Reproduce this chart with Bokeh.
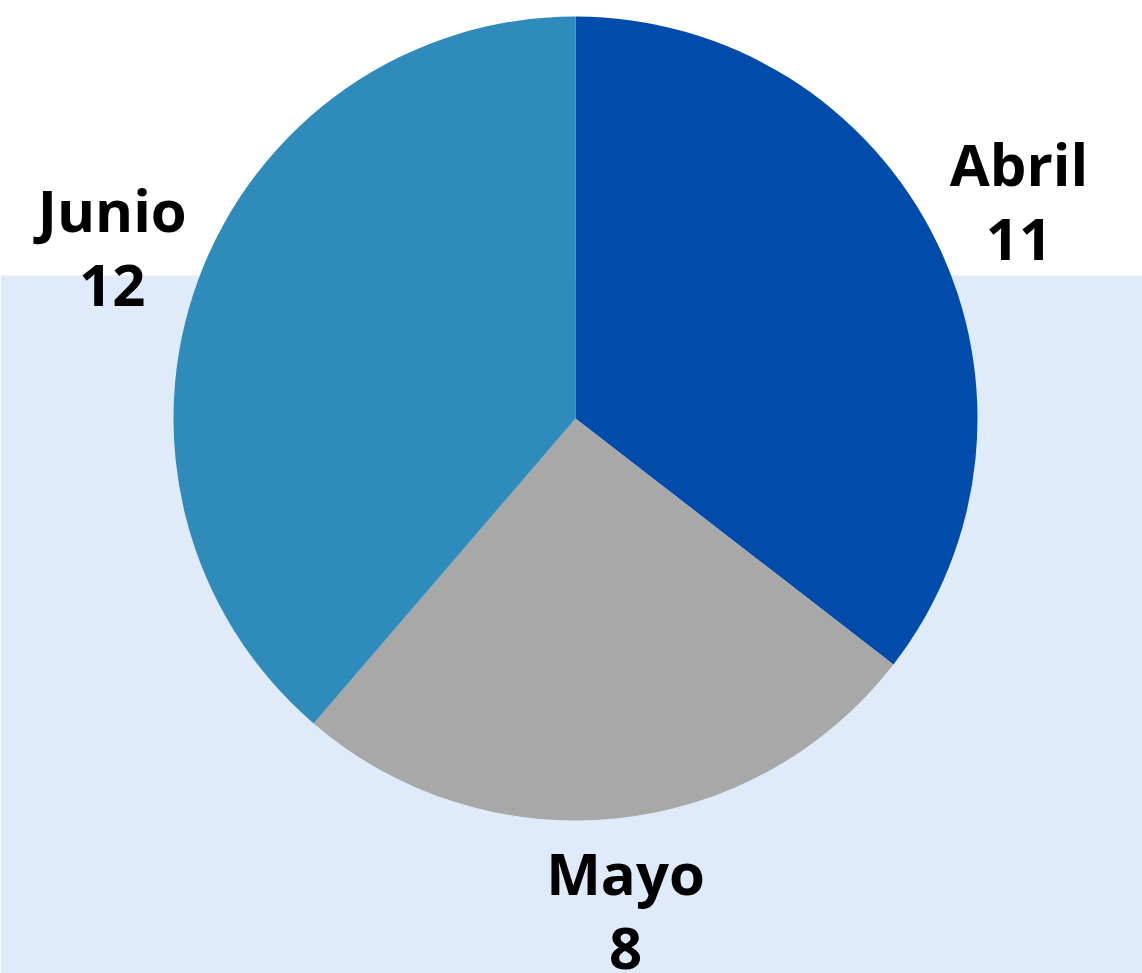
import numpy as np
from bokeh.plotting import figure
from bokeh.models import Range1d, BoxAnnotation, ColumnDataSource
from bokeh.core.properties import value
from bokeh.embed import file_html
from bokeh.resources import INLINE

# data
months = ["Abril", "Mayo", "Junio"]
counts = [11, 8, 12]
colors = ["#014BAB", "#A8A8A8", "#2E8BBA"]

W, H = 1142, 973
cx, cy = 575, H - 418
R = 402
label_r = 494

vals = np.array(counts, dtype=float)
frac = vals / vals.sum()
ends_cum = np.cumsum(frac)
starts_cum = ends_cum - frac
start_angle = np.pi / 2 - 2 * np.pi * starts_cum
end_angle = np.pi / 2 - 2 * np.pi * ends_cum
mid = (start_angle + end_angle) / 2

src = ColumnDataSource(dict(month=months, count=counts, color=colors,
                            start=start_angle, end=end_angle))

p = figure(width=W, height=H, output_backend="svg", toolbar_location=None,
           x_range=Range1d(0, W), y_range=Range1d(0, H), min_border=0,
           background_fill_color="white", border_fill_color="white")
p.axis.visible = False
p.grid.visible = False
p.outline_line_color = None

p.add_layout(BoxAnnotation(bottom=0, top=H - 275, fill_color="#E0EBFA",
                           fill_alpha=1.0, line_color=None, level="underlay"))

p.wedge(x=cx, y=cy, radius=R, start_angle="start", end_angle="end",
        direction="clock", fill_color="color", line_color=None, source=src)

lx = cx + label_r * np.cos(mid)
ly = cy + label_r * np.sin(mid)
lab = ColumnDataSource(dict(x=lx, y1=ly + 37, y2=ly - 39,
                            name=months, val=[str(c) for c in counts]))
for ycol, tcol in (("y1", "name"), ("y2", "val")):
    p.text(x="x", y=ycol, text=tcol, source=lab, text_font=value("Open Sans"),
           text_font_style="bold", text_font_size="58px", text_color="black",
           text_align="center", text_baseline="middle")

open("out.html", "w").write(file_html(p, INLINE))
